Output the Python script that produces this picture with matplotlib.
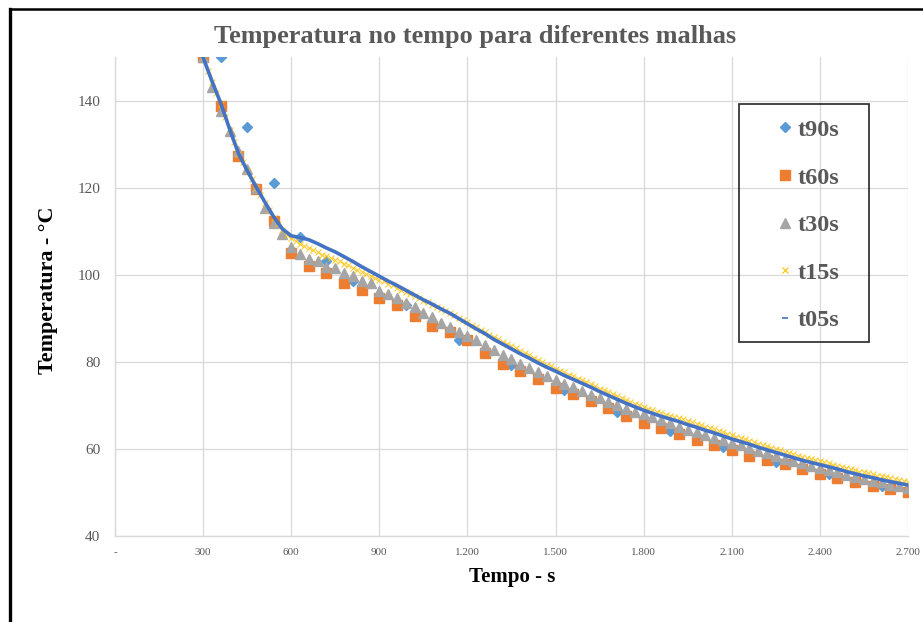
import matplotlib
matplotlib.use("Agg")
import matplotlib.pyplot as plt
from matplotlib.lines import Line2D
from matplotlib.patches import Rectangle
from matplotlib.ticker import FuncFormatter

plt.rcParams.update({
    "font.family": ["Liberation Serif", "DejaVu Serif"],
})

_GRID = "#D9D9D9"
_TEXT = "#595959"

# malha t90s (um ponto a cada 90 s)
t90_x = list(range(360, 2701, 90))
t90_y = [150.0, 134.0, 121.1, 108.8, 103.3, 98.6, 95.0, 93.2, 88.6, 85.0,
         82.4, 79.3, 76.4, 73.6, 71.2, 68.6, 66.2, 64.2, 62.2, 60.5,
         58.7, 57.1, 55.6, 54.2, 52.8, 51.5, 50.2]

# malha t60s
t60_x = list(range(300, 2701, 60))
t60_y = [150.0, 138.9, 127.4, 119.8, 112.3, 105.1, 102.1, 100.4, 98.1, 96.6,
         94.6, 93.0, 90.6, 88.3, 87.0, 85.1, 82.1, 79.5, 78.0, 76.0,
         74.1, 72.6, 71.0, 69.5, 67.6, 66.0, 64.8, 63.5, 62.0, 60.8,
         59.8, 58.5, 57.5, 56.5, 55.3, 54.2, 53.3, 52.5, 51.5, 50.7,
         50.0]

# malha t30s
t30_x = list(range(300, 2701, 30))
t30_y = [150.0, 143.3, 137.8, 133.2, 128.6, 124.3, 120.0, 115.5, 112.0, 109.5,
         106.5, 104.8, 103.6, 103.2, 101.9, 101.5, 100.4, 99.8, 98.6, 98.1,
         96.4, 95.6, 94.6, 93.6, 92.6, 91.2, 90.4, 89.0, 88.0, 86.8,
         86.0, 85.1, 83.8, 82.8, 81.6, 80.6, 79.6, 78.7, 77.7, 76.8,
         75.9, 75.0, 74.2, 73.4, 72.5, 71.7, 70.8, 70.0, 69.3, 68.6,
         68.0, 67.4, 66.6, 65.9, 65.1, 64.4, 63.8, 63.2, 62.6, 62.1,
         61.4, 60.8, 60.2, 59.6, 59.0, 58.4, 57.8, 57.3, 56.7, 56.1,
         55.6, 55.1, 54.6, 54.1, 53.6, 53.1, 52.7, 52.3, 51.8, 51.4,
         51.0]

# malha t15s
t15_x = list(range(300, 2701, 15))
t15_y = [150.0, 147.0, 144.4, 141.9, 139.3, 136.4, 133.4, 130.6, 127.9, 125.9,
         123.9, 122.0, 120.1, 118.3, 116.6, 114.9, 113.2, 111.7, 110.3, 109.2,
         108.4, 107.8, 107.2, 106.7, 106.2, 105.7, 105.2, 104.7, 104.3, 103.9,
         103.5, 103.1, 102.6, 102.2, 101.7, 101.2, 100.7, 100.3, 99.8, 99.4,
         98.9, 98.5, 98.0, 97.6, 97.1, 96.6, 96.1, 95.6, 95.1, 94.6,
         94.1, 93.7, 93.2, 92.7, 92.2, 91.8, 91.3, 90.8, 90.2, 89.7,
         89.1, 88.5, 88.0, 87.4, 86.9, 86.3, 85.7, 85.2, 84.6, 84.1,
         83.6, 83.1, 82.5, 82.0, 81.5, 81.0, 80.4, 79.9, 79.4, 79.0,
         78.5, 78.0, 77.6, 77.1, 76.7, 76.2, 75.8, 75.4, 74.9, 74.4,
         73.9, 73.5, 73.0, 72.6, 72.1, 71.7, 71.2, 70.8, 70.4, 70.0,
         69.6, 69.3, 68.9, 68.6, 68.2, 67.9, 67.6, 67.3, 67.1, 66.8,
         66.4, 66.1, 65.8, 65.5, 65.1, 64.8, 64.5, 64.1, 63.8, 63.4,
         63.1, 62.8, 62.5, 62.2, 61.9, 61.6, 61.2, 60.9, 60.6, 60.3,
         60.0, 59.7, 59.4, 59.1, 58.8, 58.5, 58.2, 57.9, 57.7, 57.4,
         57.2, 56.9, 56.7, 56.4, 56.2, 55.9, 55.6, 55.4, 55.1, 54.8,
         54.6, 54.4, 54.2, 53.9, 53.7, 53.5, 53.3, 53.1, 52.9, 52.7,
         52.4]

# malha t05s (amostrada a cada 30 s, desenhada como curva continua)
t05_x = list(range(300, 2701, 30))
t05_y = [150.0, 144.6, 139.5, 133.6, 128.0, 124.0, 120.3, 116.8, 113.4, 110.6,
         109.0, 108.6, 108.1, 107.2, 106.2, 105.3, 104.2, 103.1, 101.9, 100.8,
         99.7, 98.6, 97.6, 96.5, 95.4, 94.3, 93.3, 92.2, 91.2, 90.0,
         88.8, 87.6, 86.5, 85.2, 84.1, 83.0, 81.9, 80.9, 79.8, 78.8,
         77.9, 76.9, 76.0, 75.1, 74.2, 73.2, 72.3, 71.4, 70.5, 69.7,
         68.9, 68.2, 67.5, 66.9, 66.3, 65.6, 65.0, 64.3, 63.7, 63.0,
         62.3, 61.7, 61.1, 60.4, 59.8, 59.2, 58.6, 58.0, 57.4, 56.9,
         56.4, 55.9, 55.4, 54.8, 54.3, 53.8, 53.4, 52.9, 52.5, 52.1,
         51.7]

labels = ["t90s", "t60s", "t30s", "t15s", "t05s"]
x_ticks = list(range(0, 2701, 300))
y_ticks = list(range(40, 141, 20))

fig = plt.figure(figsize=(9.23, 6.22), dpi=100)
ax = fig.add_axes([0.1246, 0.1383, 0.8591, 0.7693])

ax.plot(t90_x, t90_y, ls="none", marker="D", ms=4.6, color="#5B9BD5",
        mec="#5B9BD5", label=labels[0])
ax.plot(t60_x, t60_y, ls="none", marker="s", ms=6.6, color="#ED7D31",
        mec="#ED7D31", label=labels[1])
ax.plot(t30_x, t30_y, ls="none", marker="^", ms=7.0, color="#A5A5A5",
        mec="#A5A5A5", label=labels[2])
ax.plot(t15_x, t15_y, ls="none", marker="x", ms=4.2, mew=0.8,
        color="#FFC000", alpha=0.8, label=labels[3])
ax.plot(t05_x, t05_y, ls="-", lw=2.6, color="#4472C4", label=labels[4])

ax.set_xlim(0, 2700)
ax.set_ylim(40, 150)
ax.set_xticks(x_ticks)
ax.set_yticks(y_ticks)
ax.xaxis.set_major_formatter(FuncFormatter(
    lambda v, _: "-" if v == 0 else f"{int(v):,}".replace(",", ".")))
ax.tick_params(axis="both", length=0, colors=_TEXT)
ax.tick_params(axis="x", labelsize=8, pad=9)
ax.tick_params(axis="y", labelsize=11, pad=10.5)
ax.grid(True, color=_GRID, lw=0.9)
ax.set_axisbelow(True)
for s in ("top", "right"):
    ax.spines[s].set_visible(False)
for s in ("left", "bottom"):
    ax.spines[s].set_color(_GRID)
    ax.spines[s].set_linewidth(1.0)

fig.text(0.515, 0.941, "Temperatura no tempo para diferentes malhas",
         ha="center", va="center", fontsize=18.9, fontweight="bold", color=_TEXT)
fig.text(0.555, 0.073, "Tempo - s", ha="center", va="center",
         fontsize=15, fontweight="bold", color="black")
fig.text(0.0525, 0.534, "Temperatura - °C", ha="center", va="center",
         rotation=90, fontsize=15.8, fontweight="bold", color="black")

# legenda: marcadores e textos sem moldura, caixa desenhada a parte
handles = [
    Line2D([], [], ls="none", marker="D", ms=5, color="#5B9BD5"),
    Line2D([], [], ls="none", marker="s", ms=7, color="#ED7D31"),
    Line2D([], [], ls="none", marker="^", ms=7, color="#A5A5A5"),
    Line2D([], [], ls="none", marker="x", ms=5, mew=0.8, color="#FFC000"),
    Line2D([], [], ls="none", marker="_", ms=4, mew=1.2, color="#4472C4"),
]
leg = fig.legend(handles, labels, loc="upper left",
                 bbox_to_anchor=(0.8375, 0.8087), borderaxespad=0,
                 frameon=False, fontsize=17.5, labelspacing=1.05,
                 handlelength=1.0, handletextpad=0.0, borderpad=0)
for t in leg.get_texts():
    t.set_color(_TEXT)
    t.set_fontweight("bold")
fig.add_artist(Rectangle((739 / 923, 1 - 342 / 622), 130 / 923, 238 / 622,
                         transform=fig.transFigure, fill=False,
                         edgecolor="#262626", lw=1.2))

# moldura da figura (esquerda e topo)
fig.add_artist(Line2D([0.0103, 0.0103], [0.0, 0.985], transform=fig.transFigure,
                      color="black", lw=2.4))
fig.add_artist(Line2D([0.0103, 1.0], [0.985, 0.985], transform=fig.transFigure,
                      color="black", lw=1.8))

fig.savefig("out.png", dpi=100)
